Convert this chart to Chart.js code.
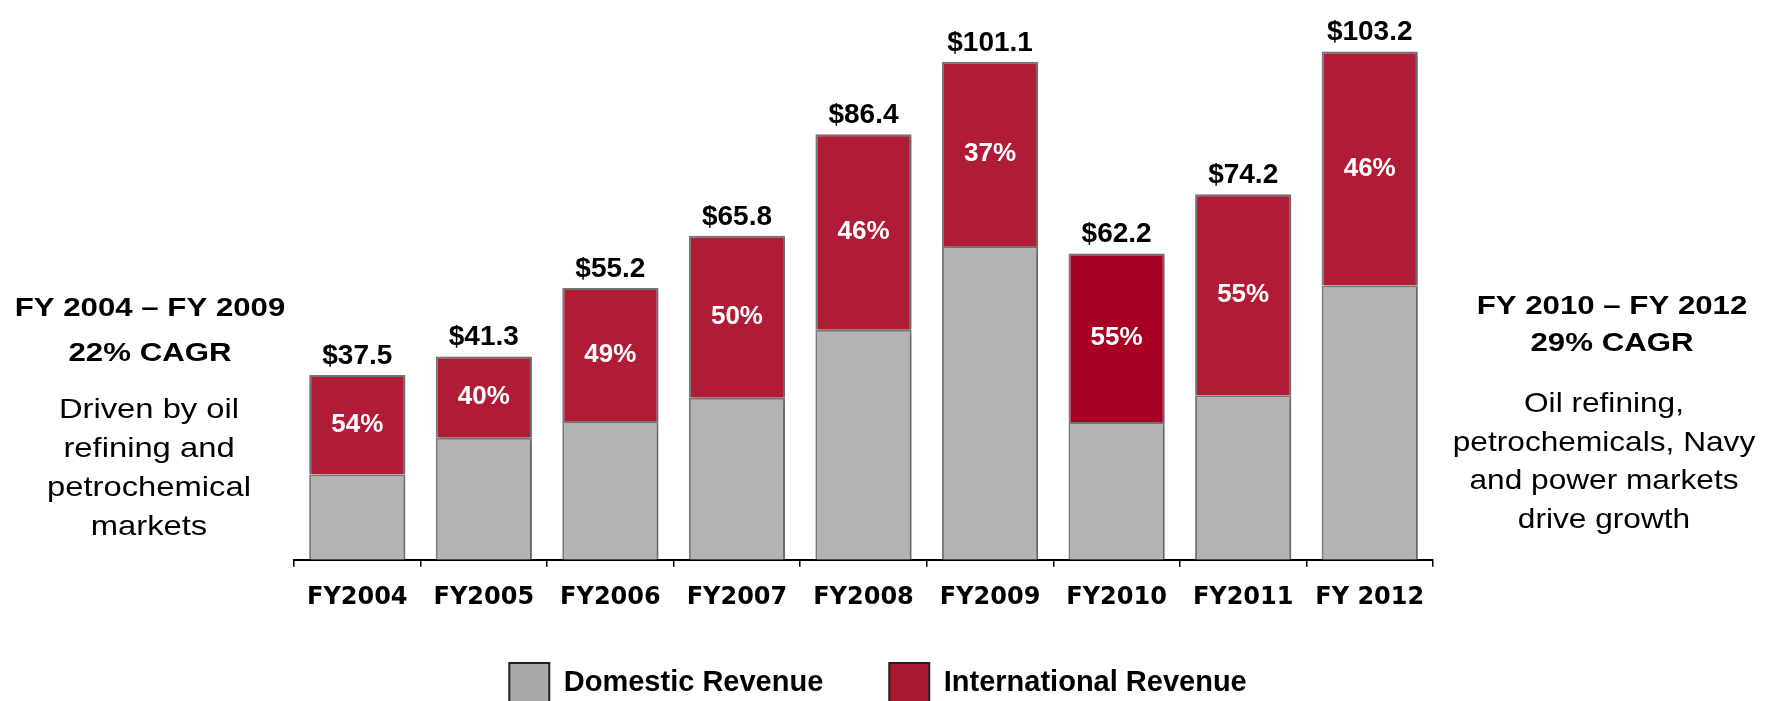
<!DOCTYPE html>
<html>
<head>
<meta charset="utf-8">
<title>Receita FY2004 - FY2012</title>
<script src="https://cdn.jsdelivr.net/npm/chart.js@4.4.1/dist/chart.umd.min.js"></script>
<style>
  html, body { margin: 0; padding: 0; background: #fff; }
</style>
</head>
<body>
<canvas id="grafico" width="1769" height="701"></canvas>
<script>
//  Dados do grafico //
const anos = ['FY2004', 'FY2005', 'FY2006', 'FY2007', 'FY2008', 'FY2009', 'FY2010', 'FY2011', 'FY 2012'];
const totais = [37.5, 41.3, 55.2, 65.8, 86.4, 101.1, 62.2, 74.2, 103.2];
const pctInternacional = [54, 40, 49, 50, 46, 37, 55, 55, 46];
const domestica = [17.3, 24.8, 28.2, 32.9, 46.7, 63.7, 28.0, 33.4, 55.7];
const internacional = [20.2, 16.5, 27.0, 32.9, 39.7, 37.4, 34.2, 40.8, 47.5];
const nomesSeries = ['Domestic Revenue', 'International Revenue'];

//  Textos laterais //
const tituloEsq = ['FY 2004 \u2013 FY 2009', '22% CAGR'];
const textoEsq = ['Driven by oil', 'refining and', 'petrochemical', 'markets'];
const tituloDir = ['FY 2010 \u2013 FY 2012', '29% CAGR'];
const textoDir = ['Oil refining,', 'petrochemicals, Navy', 'and power markets', 'drive growth'];

//  Estilo //
const FONTE = "'Liberation Sans', Arial, sans-serif";
const CINZA = '#B3B3B3';
const VERMELHO = '#B01C36';
const VERMELHO_2010 = '#A80024';
const BORDA = '#7A7A7A';
const CENTRO_LEGENDA = 878;

const coresInternacional = anos.map(a => a === 'FY2010' ? VERMELHO_2010 : VERMELHO);

// Legenda um pouco deslocada, como no original
const legendaPlugin = {
  id: 'ajusteLegenda',
  beforeDraw(chart) {
    const lg = chart.legend;
    if (!lg) return;
    const d = CENTRO_LEGENDA - (lg.left + lg.right) / 2;
    lg.left += d;
    lg.right += d;
  }
};

// Sombra leve nas barras + rotulos
const rotulosPlugin = {
  id: 'rotulos',
  beforeDatasetsDraw(chart) {
    const ctx = chart.ctx;
    ctx.save();
    ctx.shadowColor = 'rgba(0,0,0,0.22)';
    ctx.shadowBlur = 6;
    ctx.shadowOffsetX = 3;
    ctx.shadowOffsetY = 1;
  },
  afterDatasetsDraw(chart) {
    const ctx = chart.ctx;
    ctx.restore();
    const barras = chart.getDatasetMeta(1).data;
    ctx.save();
    ctx.textAlign = 'center';
    barras.forEach((bar, i) => {
      ctx.fillStyle = '#fff';
      ctx.font = 'bold 26px ' + FONTE;
      ctx.textBaseline = 'middle';
      ctx.fillText(pctInternacional[i] + '%', bar.x, (bar.y + bar.base) / 2);

      ctx.fillStyle = '#000';
      ctx.font = 'bold 28px ' + FONTE;
      ctx.textBaseline = 'alphabetic';
      ctx.fillText('$' + totais[i].toFixed(1), bar.x, bar.y - 11);
    });
    ctx.restore();
  }
};

// Blocos de texto a esquerda e a direita
function escreveLinha(ctx, texto, x, y, esticar) {
  ctx.save();
  ctx.translate(x, y);
  ctx.scale(esticar, 1);
  ctx.fillText(texto, 0, 0);
  ctx.restore();
}

function escreveBloco(ctx, linhas, x, y0, passo, fonte, esticar) {
  ctx.font = fonte;
  linhas.forEach((t, i) => escreveLinha(ctx, t, x, y0 + i * passo, esticar));
}

const ladosPlugin = {
  id: 'lados',
  afterDraw(chart) {
    const ctx = chart.ctx;
    ctx.save();
    ctx.fillStyle = '#000';
    ctx.textAlign = 'center';
    ctx.textBaseline = 'alphabetic';
    escreveBloco(ctx, tituloEsq, 150, 316, 45, 'bold 26px ' + FONTE, 1.2);
    escreveBloco(ctx, textoEsq, 149, 418, 39, '28px ' + FONTE, 1.17);
    escreveBloco(ctx, tituloDir, 1612, 314, 37, 'bold 26px ' + FONTE, 1.2);
    escreveBloco(ctx, textoDir, 1604, 412, 38.5, '28px ' + FONTE, 1.13);
    ctx.restore();
  }
};

const legendaCores = ['#A9A9A9', '#A8182F'];

new Chart(document.getElementById('grafico'), {
  type: 'bar',
  data: {
    labels: anos,
    datasets: [
      {
        label: nomesSeries[0],
        data: domestica,
        backgroundColor: CINZA,
        borderColor: BORDA,
        borderWidth: 2,
        borderSkipped: 'start'
      },
      {
        label: nomesSeries[1],
        data: internacional,
        backgroundColor: coresInternacional,
        borderColor: BORDA,
        borderWidth: 2,
        borderSkipped: 'start'
      }
    ]
  },
  options: {
    responsive: false,
    animation: false,
    events: [],
    layout: { padding: { top: 18, left: 294, right: 336, bottom: -12 } },
    datasets: { bar: { categoryPercentage: 1, barPercentage: 0.76 } },
    scales: {
      x: {
        stacked: true,
        grid: { display: true, drawOnChartArea: false, drawTicks: true, tickLength: 7, color: '#000', lineWidth: 1.5, offset: true },
        border: { display: true, color: '#000', width: 2 },
        ticks: {
          color: '#000',
          font: { family: "'DejaVu Sans', sans-serif", weight: 'bold', size: 24 },
          padding: 17,
          maxRotation: 0,
          autoSkip: false
        },
        afterFit: s => { s.height = 53; }
      },
      y: { stacked: true, display: false, min: 0, max: 110 }
    },
    plugins: {
      tooltip: { enabled: false },
      legend: {
        position: 'bottom',
        // titulo vazio com padding negativo: so para encostar a legenda no eixo
        title: { display: true, text: '', color: '#000', font: { size: 1 }, padding: { top: -17, bottom: 0 } },
        labels: {
          boxWidth: 40,
          boxHeight: 40,
          padding: 66,
          color: '#000',
          font: { family: FONTE, weight: 'bold', size: 29 },
          generateLabels: chart => chart.data.datasets.map((ds, i) => ({
            text: ds.label,
            fillStyle: legendaCores[i],
            strokeStyle: '#222',
            fontColor: '#000',
            lineWidth: 2,
            hidden: false,
            datasetIndex: i
          }))
        }
      }
    }
  },
  plugins: [legendaPlugin, rotulosPlugin, ladosPlugin]
});
</script>
</body>
</html>
